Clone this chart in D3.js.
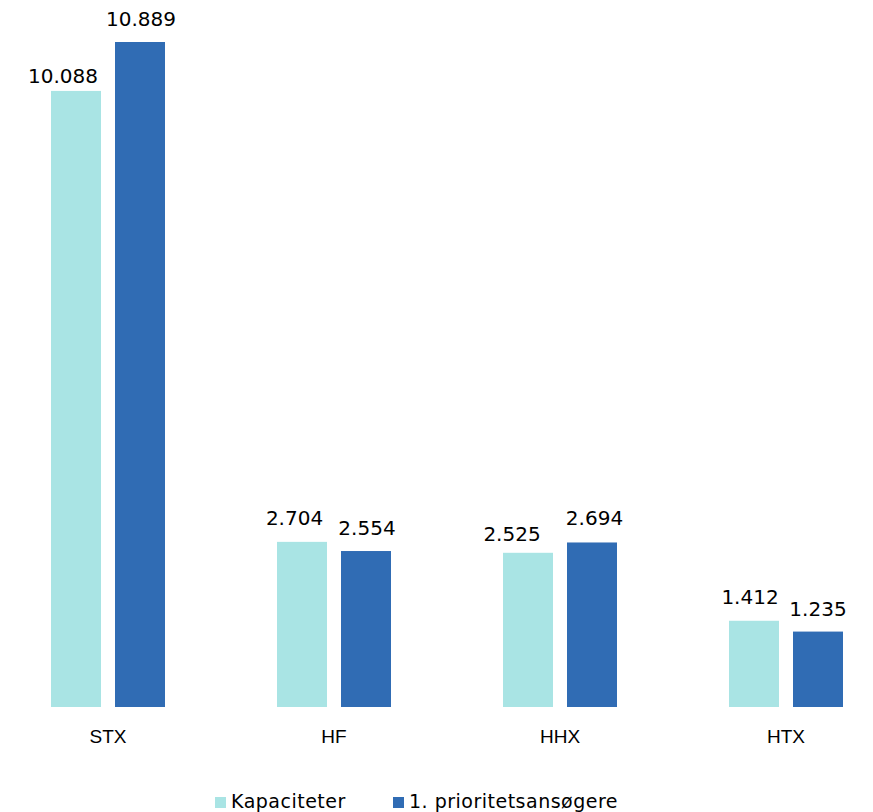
<!DOCTYPE html>
<html>
<head>
<meta charset="utf-8">
<script src="https://cdn.jsdelivr.net/npm/d3@7"></script>
<style>
  html, body { margin: 0; padding: 0; background: #fff; }
  svg { display: block; font-family: "Liberation Sans", Arial, sans-serif; }
</style>
</head>
<body>
<svg id="chart" width="873" height="812"></svg>
<script>
const categories = ["STX", "HF", "HHX", "HTX"];
const seriesNames = ["Kapaciteter", "1. prioritetsansøgere"];
const kapaciteter = [10088, 2704, 2525, 1412];
const prioritet = [10889, 2554, 2694, 1235];
const colors = ["#A9E4E4", "#306CB4"];
// manual label nudges (layout only): [dx, dy] per category, per series
const labelNudge = [
  [[-13, 8], [-7.5, -0.5], [-16, 4.5], [-4, -0.5]],
  [[1, 0], [1, 0], [2.5, -1], [0, 0]]
];

const svg = d3.select("#chart");
const baseline = 707;
const plotTop = 42;

const x0 = d3.scaleBand().domain(categories).range([-5, 899]).paddingInner(0).paddingOuter(0);
const x1 = d3.scaleBand().domain(seriesNames).range([0, 114]).paddingInner(14/64).paddingOuter(0);
const y = d3.scaleLinear().domain([0, 10889]).range([baseline, plotTop]);

const fmt = v => d3.format(",")(v).replace(/,/g, ".");

const data = categories.map((c, i) => ({cat: c, i, vals: [kapaciteter[i], prioritet[i]]}));

const groups = svg.selectAll("g.grp").data(data).join("g")
  .attr("class", "grp")
  .attr("transform", d => `translate(${x0(d.cat) + x0.bandwidth()/2 - 57},0)`);

groups.selectAll("rect").data(d => d.vals.map((v, j) => ({v, s: seriesNames[j], j, i: d.i}))).join("rect")
  .attr("x", d => x1(d.s))
  .attr("y", d => y(d.v))
  .attr("width", x1.bandwidth())
  .attr("height", d => baseline - y(d.v))
  .attr("fill", d => colors[d.j]);

groups.selectAll("text.val").data(d => d.vals.map((v, j) => ({v, s: seriesNames[j], j, i: d.i}))).join("text")
  .attr("class", "val")
  .attr("x", d => x1(d.s) + x1.bandwidth()/2 + labelNudge[d.j][d.i][0])
  .attr("y", d => y(d.v) - 16 + labelNudge[d.j][d.i][1])
  .attr("text-anchor", "middle")
  .attr("font-size", 20)
  .attr("font-family", "DejaVu Sans, sans-serif")
  .attr("fill", "#000")
  .text(d => fmt(d.v));

// category axis labels
const xAxis = d3.axisBottom(x0).tickSize(0).tickPadding(0);
const ax = svg.append("g").attr("transform", `translate(0,${baseline})`).call(xAxis);
ax.select(".domain").remove();
ax.selectAll("text")
  .attr("dy", 0)
  .attr("y", 36)
  .attr("font-size", 19)
  .attr("font-family", "Liberation Sans, Arial, sans-serif")
  .attr("fill", "#000");

// legend
const legendX = [215, 393];
const lg = svg.selectAll("g.leg").data(seriesNames).join("g")
  .attr("class", "leg")
  .attr("transform", (d, i) => `translate(${legendX[i]},797)`);
lg.append("rect").attr("width", 11).attr("height", 11).attr("fill", (d, i) => colors[i]);
lg.append("text").attr("x", 16).attr("y", 11).attr("font-size", 19).attr("letter-spacing", 0.5)
  .attr("font-family", "DejaVu Sans, sans-serif").attr("fill", "#000").text(d => d);
</script>
</body>
</html>
